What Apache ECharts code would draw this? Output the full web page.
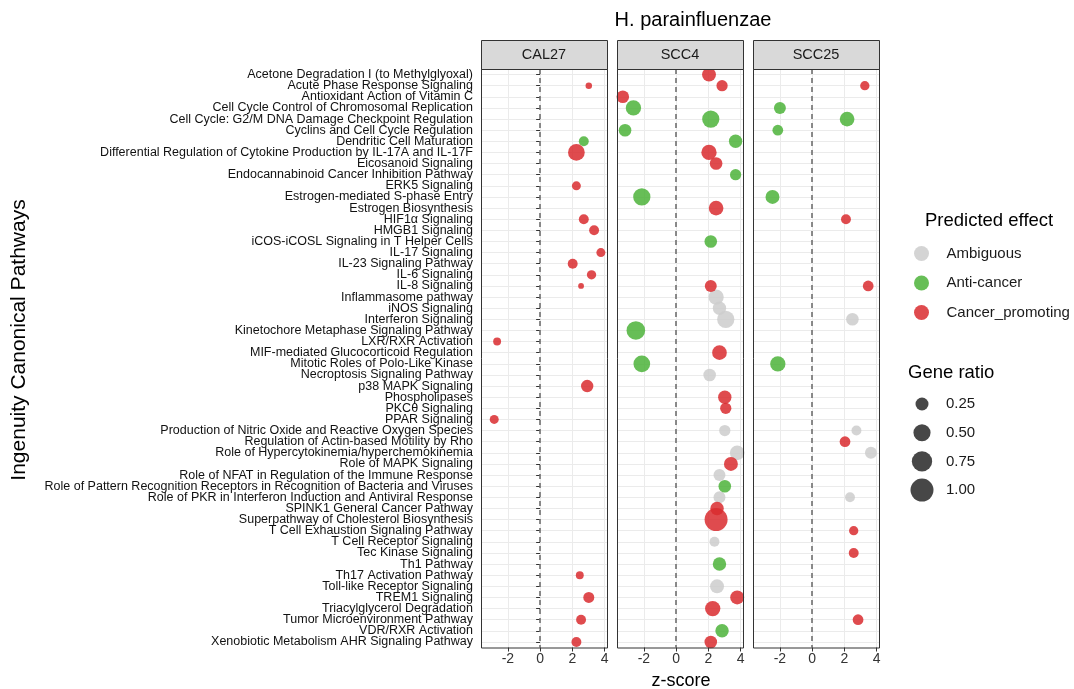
<!DOCTYPE html>
<html>
<head>
<meta charset="utf-8">
<title>H. parainfluenzae</title>
<script src="https://cdn.jsdelivr.net/npm/echarts@6/dist/echarts.min.js"></script>
</head>
<body style="margin:0;background:#fff">
<div id="main" style="width:1074px;height:689px;"></div>
<script>
var AMB = 'Ambiguous', ANTI = 'Anti-cancer', PRO = 'Cancer_promoting';

var pathways = [
  'Acetone Degradation I (to Methylglyoxal)',
  'Acute Phase Response Signaling',
  'Antioxidant Action of Vitamin C',
  'Cell Cycle Control of Chromosomal Replication',
  'Cell Cycle: G2/M DNA Damage Checkpoint Regulation',
  'Cyclins and Cell Cycle Regulation',
  'Dendritic Cell Maturation',
  'Differential Regulation of Cytokine Production by IL-17A and IL-17F',
  'Eicosanoid Signaling',
  'Endocannabinoid Cancer Inhibition Pathway',
  'ERK5 Signaling',
  'Estrogen-mediated S-phase Entry',
  'Estrogen Biosynthesis',
  'HIF1α Signaling',
  'HMGB1 Signaling',
  'iCOS-iCOSL Signaling in T Helper Cells',
  'IL-17 Signaling',
  'IL-23 Signaling Pathway',
  'IL-6 Signaling',
  'IL-8 Signaling',
  'Inflammasome pathway',
  'iNOS Signaling',
  'Interferon Signaling',
  'Kinetochore Metaphase Signaling Pathway',
  'LXR/RXR Activation',
  'MIF-mediated Glucocorticoid Regulation',
  'Mitotic Roles of Polo-Like Kinase',
  'Necroptosis Signaling Pathway',
  'p38 MAPK Signaling',
  'Phospholipases',
  'PKCθ Signaling',
  'PPAR Signaling',
  'Production of Nitric Oxide and Reactive Oxygen Species',
  'Regulation of Actin-based Motility by Rho',
  'Role of Hypercytokinemia/hyperchemokinemia',
  'Role of MAPK Signaling',
  'Role of NFAT in Regulation of the Immune Response',
  'Role of Pattern Recognition Receptors in Recognition of Bacteria and Viruses',
  'Role of PKR in Interferon Induction and Antiviral Response',
  'SPINK1 General Cancer Pathway',
  'Superpathway of Cholesterol Biosynthesis',
  'T Cell Exhaustion Signaling Pathway',
  'T Cell Receptor Signaling',
  'Tec Kinase Signaling',
  'Th1 Pathway',
  'Th17 Activation Pathway',
  'Toll-like Receptor Signaling',
  'TREM1 Signaling',
  'Triacylglycerol Degradation',
  'Tumor Microenvironment Pathway',
  'VDR/RXR Activation',
  'Xenobiotic Metabolism AHR Signaling Pathway'
];

var panels = ['CAL27', 'SCC4', 'SCC25'];
var effects = [AMB, ANTI, PRO];
var effectColors = ['#cccccc', '#4cb33a', '#d92b2f'];
var xTicks = [-2, 0, 2, 4];
var sizeBreaks = [0.25, 0.50, 0.75, 1.00];

// [pathway, z-score, gene ratio, predicted effect]
var cal27 = [
  ['Acute Phase Response Signaling', 3.02, 0.03, PRO],
  ['Dendritic Cell Maturation', 2.71, 0.12, ANTI],
  ['Differential Regulation of Cytokine Production by IL-17A and IL-17F', 2.25, 0.47, PRO],
  ['ERK5 Signaling', 2.25, 0.09, PRO],
  ['HIF1α Signaling', 2.71, 0.12, PRO],
  ['HMGB1 Signaling', 3.35, 0.12, PRO],
  ['IL-17 Signaling', 3.77, 0.09, PRO],
  ['IL-23 Signaling Pathway', 2.02, 0.12, PRO],
  ['IL-6 Signaling', 3.19, 0.10, PRO],
  ['IL-8 Signaling', 2.54, 0.02, PRO],
  ['LXR/RXR Activation', -2.67, 0.06, PRO],
  ['p38 MAPK Signaling', 2.92, 0.22, PRO],
  ['PPAR Signaling', -2.85, 0.09, PRO],
  ['Th17 Activation Pathway', 2.46, 0.06, PRO],
  ['TREM1 Signaling', 3.02, 0.16, PRO],
  ['Tumor Microenvironment Pathway', 2.54, 0.12, PRO],
  ['Xenobiotic Metabolism AHR Signaling Pathway', 2.25, 0.12, PRO]
];

var scc4 = [
  ['Acetone Degradation I (to Methylglyoxal)', 2.04, 0.30, PRO],
  ['Acute Phase Response Signaling', 2.85, 0.17, PRO],
  ['Antioxidant Action of Vitamin C', -3.31, 0.23, PRO],
  ['Cell Cycle Control of Chromosomal Replication', -2.65, 0.38, ANTI],
  ['Cell Cycle: G2/M DNA Damage Checkpoint Regulation', 2.15, 0.51, ANTI],
  ['Cyclins and Cell Cycle Regulation', -3.17, 0.23, ANTI],
  ['Dendritic Cell Maturation', 3.69, 0.27, ANTI],
  ['Differential Regulation of Cytokine Production by IL-17A and IL-17F', 2.04, 0.38, PRO],
  ['Eicosanoid Signaling', 2.48, 0.23, PRO],
  ['Endocannabinoid Cancer Inhibition Pathway', 3.69, 0.17, ANTI],
  ['Estrogen-mediated S-phase Entry', -2.13, 0.51, ANTI],
  ['Estrogen Biosynthesis', 2.48, 0.34, PRO],
  ['iCOS-iCOSL Signaling in T Helper Cells', 2.15, 0.23, ANTI],
  ['IL-8 Signaling', 2.15, 0.20, PRO],
  ['Inflammasome pathway', 2.48, 0.38, AMB],
  ['iNOS Signaling', 2.69, 0.27, AMB],
  ['Interferon Signaling', 3.08, 0.51, AMB],
  ['Kinetochore Metaphase Signaling Pathway', -2.50, 0.61, ANTI],
  ['MIF-mediated Glucocorticoid Regulation', 2.69, 0.34, PRO],
  ['Mitotic Roles of Polo-Like Kinase', -2.13, 0.47, ANTI],
  ['Necroptosis Signaling Pathway', 2.08, 0.23, AMB],
  ['Phospholipases', 3.02, 0.27, PRO],
  ['PKCθ Signaling', 3.08, 0.17, PRO],
  ['Production of Nitric Oxide and Reactive Oxygen Species', 3.02, 0.17, AMB],
  ['Role of Hypercytokinemia/hyperchemokinemia', 3.79, 0.34, AMB],
  ['Role of MAPK Signaling', 3.40, 0.30, PRO],
  ['Role of NFAT in Regulation of the Immune Response', 2.69, 0.20, AMB],
  ['Role of Pattern Recognition Receptors in Recognition of Bacteria and Viruses', 3.02, 0.23, ANTI],
  ['Role of PKR in Interferon Induction and Antiviral Response', 2.69, 0.20, AMB],
  ['Superpathway of Cholesterol Biosynthesis', 2.48, 1.00, PRO],
  ['SPINK1 General Cancer Pathway', 2.54, 0.27, PRO],
  ['T Cell Receptor Signaling', 2.38, 0.12, AMB],
  ['Th1 Pathway', 2.69, 0.27, ANTI],
  ['Toll-like Receptor Signaling', 2.54, 0.30, AMB],
  ['TREM1 Signaling', 3.79, 0.30, PRO],
  ['Triacylglycerol Degradation', 2.27, 0.38, PRO],
  ['VDR/RXR Activation', 2.85, 0.27, ANTI],
  ['Xenobiotic Metabolism AHR Signaling Pathway', 2.15, 0.23, PRO]
];

var scc25 = [
  ['Acute Phase Response Signaling', 3.27, 0.10, PRO],
  ['Cell Cycle Control of Chromosomal Replication', -2.00, 0.20, ANTI],
  ['Cell Cycle: G2/M DNA Damage Checkpoint Regulation', 2.17, 0.34, ANTI],
  ['Cyclins and Cell Cycle Regulation', -2.13, 0.15, ANTI],
  ['Estrogen-mediated S-phase Entry', -2.46, 0.30, ANTI],
  ['HIF1α Signaling', 2.10, 0.12, PRO],
  ['IL-8 Signaling', 3.48, 0.15, PRO],
  ['Interferon Signaling', 2.50, 0.23, AMB],
  ['Mitotic Roles of Polo-Like Kinase', -2.13, 0.38, ANTI],
  ['Production of Nitric Oxide and Reactive Oxygen Species', 2.75, 0.12, AMB],
  ['Regulation of Actin-based Motility by Rho', 2.04, 0.15, PRO],
  ['Role of Hypercytokinemia/hyperchemokinemia', 3.65, 0.20, AMB],
  ['Role of PKR in Interferon Induction and Antiviral Response', 2.35, 0.12, AMB],
  ['T Cell Exhaustion Signaling Pathway', 2.58, 0.10, PRO],
  ['Tec Kinase Signaling', 2.58, 0.12, PRO],
  ['Tumor Microenvironment Pathway', 2.85, 0.15, PRO]
];

var panelData = [cal27, scc4, scc25];

var FONT = '"Liberation Sans", Arial, sans-serif';
var panelLeft = [481, 617, 753];
var panelW = 126, panelTop = 69, panelH = 578.5, stripH = 29;
var xMin = -3.67, xMax = 4.15;

function dotSize(ratio) {
  return 3 + 20 * Math.sqrt(ratio);
}

var myChart = echarts.init(document.getElementById('main'));

var grids = [], xAxes = [], yAxes = [], series = [], graphics = [];

panels.forEach(function (name, p) {
  grids.push({left: panelLeft[p], top: panelTop, width: panelW, height: panelH, show: true,
    backgroundColor: '#fff', borderWidth: 0});
  xAxes.push({
    gridIndex: p, type: 'value', min: xMin, max: xMax,
    axisLine: {show: false},
    axisTick: {show: true, customValues: xTicks, length: 4, lineStyle: {color: '#333'}},
    axisLabel: {customValues: xTicks, color: '#333', fontSize: 14, margin: 5, fontFamily: FONT},
    splitLine: {show: true, lineStyle: {color: '#ebebeb', width: 1}}
  });
  yAxes.push({
    gridIndex: p, type: 'category', data: pathways, inverse: true,
    axisLine: {show: false},
    axisTick: {show: p === 0, alignWithLabel: true, interval: 0, length: 4, lineStyle: {color: '#333'}},
    axisLabel: {show: p === 0, interval: 0, fontSize: 12.5, color: '#111', margin: 8, fontFamily: FONT},
    splitLine: {show: true, interval: 0, alignWithLabel: true, lineStyle: {color: '#ebebeb', width: 1}}
  });
  // dashed zero line
  series.push({
    type: 'scatter', name: 'zero', xAxisIndex: p, yAxisIndex: p, data: [], silent: true,
    markLine: {silent: true, symbol: 'none', label: {show: false},
      lineStyle: {color: '#6f6f6f', width: 1.6, type: [5, 4]},
      data: [{xAxis: 0}]}
  });
  effects.forEach(function (eff, e) {
    series.push({
      type: 'scatter', name: eff, xAxisIndex: p, yAxisIndex: p, clip: true,
      data: panelData[p].filter(function (r) { return r[3] === eff; })
        .map(function (r) { return [r[1], r[0], r[2]]; }),
      symbolSize: function (v) { return dotSize(v[2]); },
      itemStyle: {color: effectColors[e], opacity: 0.85}
    });
  });
  // facet strip and panel border
  graphics.push({type: 'rect', z: 100,
    shape: {x: panelLeft[p] + 0.5, y: panelTop - stripH + 0.5, width: panelW, height: stripH},
    style: {fill: '#d9d9d9', stroke: '#333', lineWidth: 1}});
  graphics.push({type: 'text', z: 101, x: panelLeft[p] + panelW / 2, y: panelTop - stripH / 2,
    style: {text: name, fill: '#1a1a1a', font: '14.5px ' + FONT, textAlign: 'center', textVerticalAlign: 'middle'}});
  graphics.push({type: 'rect', z: 100,
    shape: {x: panelLeft[p] + 0.5, y: panelTop + 0.5, width: panelW, height: panelH},
    style: {fill: 'none', stroke: '#333', lineWidth: 1}});
});

// titles
graphics.push({type: 'text', x: 693, y: 20,
  style: {text: 'H. parainfluenzae', fill: '#000', font: '20px ' + FONT, textAlign: 'center', textVerticalAlign: 'middle'}});
graphics.push({type: 'text', x: 681, y: 681,
  style: {text: 'z-score', fill: '#000', font: '18px ' + FONT, textAlign: 'center', textVerticalAlign: 'middle'}});
graphics.push({type: 'text', x: 19, y: 340, rotation: Math.PI / 2,
  style: {text: 'Ingenuity Canonical Pathways', fill: '#000', font: '21px ' + FONT, textAlign: 'center', textVerticalAlign: 'middle'}});
graphics.push({type: 'text', x: 925, y: 221,
  style: {text: 'Predicted effect', fill: '#000', font: '18.5px ' + FONT, textAlign: 'left', textVerticalAlign: 'middle'}});
graphics.push({type: 'text', x: 908, y: 373,
  style: {text: 'Gene ratio', fill: '#000', font: '18.5px ' + FONT, textAlign: 'left', textVerticalAlign: 'middle'}});

// size legend
sizeBreaks.forEach(function (b, i) {
  var cy = 404 + i * 28.7;
  graphics.push({type: 'circle', shape: {cx: 922, cy: cy, r: dotSize(b) / 2},
    style: {fill: '#333', opacity: 0.9}});
  graphics.push({type: 'text', x: 946, y: cy,
    style: {text: b.toFixed(2), fill: '#1a1a1a', font: '15px ' + FONT, textVerticalAlign: 'middle'}});
});

var option = {
  animation: false,
  backgroundColor: '#fff',
  grid: grids,
  xAxis: xAxes,
  yAxis: yAxes,
  legend: {
    data: effects, orient: 'vertical', left: 909, top: 241,
    icon: 'circle', itemWidth: 40, itemHeight: 15, itemGap: 14.5,
    selectedMode: false,
    textStyle: {fontSize: 15, color: '#1a1a1a', fontFamily: FONT}
  },
  series: series,
  graphic: graphics
};

myChart.setOption(option);
</script>
</body>
</html>
